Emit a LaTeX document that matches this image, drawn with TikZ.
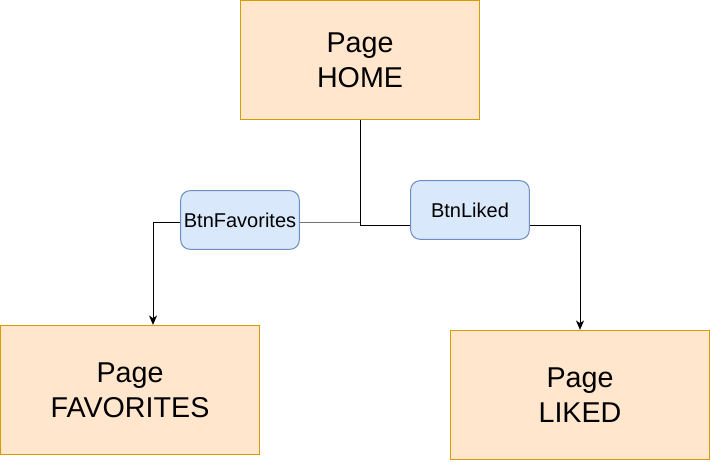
\documentclass[tikz,border=0pt]{standalone}
\usepackage{fontspec}
\setmainfont{Liberation Sans}
\usetikzlibrary{arrows.meta}
\definecolor{pagefill}{HTML}{FFE6CC}
\definecolor{pagedraw}{HTML}{D79B00}
\definecolor{btnfill}{HTML}{DAE8FC}
\definecolor{btndraw}{HTML}{6C8EBF}
\begin{document}
\begin{tikzpicture}[x=0.75pt, y=-0.75pt, line width=0.75pt]
	\tikzset{
		pagebox/.style={rectangle, draw=pagedraw, fill=pagefill, minimum width=179pt, minimum height=89pt, inner sep=0pt, align=center, font=\fontsize{21.5}{26.2}\selectfont},
		bigpage/.style={pagebox, minimum width=194pt, minimum height=97pt},
		btnbox/.style={rectangle, rounded corners=7pt, draw=btndraw, fill=btnfill, minimum width=89pt, minimum height=44pt, inner sep=0pt, font=\fontsize{15}{18}\selectfont},
		link/.style={draw=black, -{Stealth[length=7pt, width=6pt, inset=2pt]}}
	}
	\useasboundingbox (0,0) rectangle (711,461);
	\node[pagebox] (home) at (360,60) {Page\\HOME};
	\node[bigpage] (favs) at (130,390) {Page\\FAVORITES};
	\node[bigpage] (liked) at (580,395) {Page\\LIKED};
	\draw (home.south) |- (410,225);
	\draw[black!55] (360,222) -- (300,222);
	\draw[black!55] (180,222) -- (153,222);
	\node[btnbox] (btnf) at (240,220) {BtnFavorites};
	\node[btnbox] (btnl) at (470,210) {BtnLiked};
	\draw[link] (btnf.west |- 0,222) -| (favs.north -| 153,0);
	\draw[link] (btnl.east |- 0,225) -| (liked.north);
\end{tikzpicture}
\end{document}
